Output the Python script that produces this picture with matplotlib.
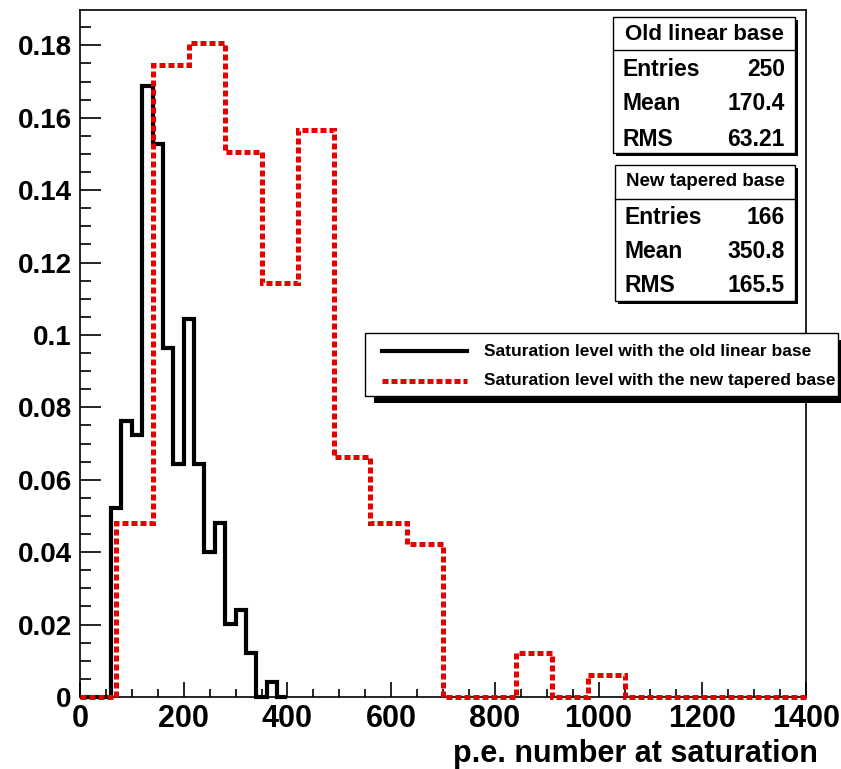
import matplotlib
matplotlib.use("Agg")
import matplotlib.pyplot as plt
from matplotlib.patches import Rectangle
from matplotlib.lines import Line2D
from matplotlib.ticker import MultipleLocator, FuncFormatter
import numpy as np

plt.rcParams['font.family'] = ['Liberation Sans', 'DejaVu Sans']
plt.rcParams['font.weight'] = 'bold'

# old linear base: 20 p.e. wide bins from 0 to 400
old_edges = np.arange(0, 401, 20)
old_counts = np.array([0, 0, 0, 13, 19, 18, 42, 38, 24, 16,
                       26, 16, 10, 12, 5, 6, 3, 0, 1, 0])
# new tapered base: 70 p.e. wide bins from 0 to 1400
new_edges = np.arange(0, 1401, 70)
new_counts = np.array([0, 8, 29, 30, 25, 19, 26, 11, 8, 7,
                       0, 0, 2, 0, 1, 0, 0, 0, 0, 0])

old_stats = [("Entries", "250"), ("Mean", "170.4"), ("RMS", "63.21")]
new_stats = [("Entries", "166"), ("Mean", "350.8"), ("RMS", "165.5")]

old_label = "Saturation level with the old linear base"
new_label = "Saturation level with the new tapered base"
xlabel = "p.e. number at saturation"

red = '#e60000'
red_ls = (0, (1.2, 0.6))

W, H = 841, 769
fig = plt.figure(figsize=(W / 100, H / 100), dpi=100)


def fx(x):
    return x / W


def fy(y):
    return 1 - y / H


ax = fig.add_axes([fx(80), fy(697), fx(806) - fx(80), fy(10) - fy(697)])

old_norm = old_counts / old_counts.sum()
new_norm = new_counts / new_counts.sum()
ax.stairs(old_norm, old_edges, color='black', lw=3, clip_on=False, zorder=3)
ax.stairs(new_norm, new_edges, color=red, lw=3.6, linestyle=red_ls,
          clip_on=False, zorder=4)

ax.set_xlim(0, 1400)
ax.set_ylim(0, 1.05 * new_norm.max())

ax.xaxis.set_major_locator(MultipleLocator(200))
ax.xaxis.set_minor_locator(MultipleLocator(50))
ax.yaxis.set_major_locator(MultipleLocator(0.02))
ax.yaxis.set_minor_locator(MultipleLocator(0.005))
ax.yaxis.set_major_formatter(FuncFormatter(lambda v, p: f"{v:g}"))

ax.tick_params(axis='y', which='major', direction='in', length=15, width=1.2,
               labelsize=20, pad=6)
ax.tick_params(axis='y', which='minor', direction='in', length=8, width=1.2)
ax.tick_params(axis='x', which='major', direction='in', length=11, width=1.2,
               labelsize=22, pad=5)
ax.tick_params(axis='x', which='minor', direction='in', length=5.5, width=1.2)
for s in ax.spines.values():
    s.set_linewidth(1.2)

fig.text(fx(818), fy(762), xlabel, fontsize=22, ha='right', va='baseline')


def stats_box(left, top, right, bottom, sep, title, tsize, title_y, rows, rows_y):
    fig.patches.append(Rectangle((fx(left + 3), fy(bottom + 3)), fx(right - left),
                                 fy(top) - fy(bottom), transform=fig.transFigure,
                                 facecolor='black', edgecolor='none', zorder=5))
    fig.patches.append(Rectangle((fx(left), fy(bottom)), fx(right - left),
                                 fy(top) - fy(bottom), transform=fig.transFigure,
                                 facecolor='white', edgecolor='black', lw=1,
                                 zorder=6))
    fig.lines.append(Line2D([fx(left), fx(right)], [fy(sep), fy(sep)],
                            transform=fig.transFigure, color='black', lw=1,
                            zorder=7))
    fig.text(fx((left + right) / 2), fy(title_y), title, fontsize=tsize,
             ha='center', va='center', zorder=8)
    for (name, val), y in zip(rows, rows_y):
        fig.text(fx(left + 9), fy(y), name, fontsize=16.5, ha='left',
                 va='center', zorder=8)
        fig.text(fx(right - 10), fy(y), val, fontsize=16.5, ha='right',
                 va='center', zorder=8)


stats_box(613, 17, 795, 153, 50, "Old linear base", 16, 34, old_stats,
          [69, 104, 139])
stats_box(615, 165, 795, 301, 199, "New tapered base", 13.5, 181, new_stats,
          [217, 251, 286])

# legend box with ROOT-like shadow
lx0, ly0, lx1, ly1 = 365, 333, 838, 396
fig.patches.append(Rectangle((fx(lx0 + 9), fy(ly1 + 7)), fx(lx1 - lx0),
                             fy(ly0) - fy(ly1), transform=fig.transFigure,
                             facecolor='black', edgecolor='none', zorder=5))
fig.patches.append(Rectangle((fx(lx0), fy(ly1)), fx(lx1 - lx0),
                             fy(ly0) - fy(ly1), transform=fig.transFigure,
                             facecolor='white', edgecolor='black', lw=1,
                             zorder=6))
fig.lines.append(Line2D([fx(382), fx(467)], [fy(351), fy(351)],
                        transform=fig.transFigure, color='black', lw=3,
                        zorder=7))
fig.lines.append(Line2D([fx(382), fx(467)], [fy(381), fy(381)],
                        transform=fig.transFigure, color=red, lw=3.6,
                        linestyle=red_ls, zorder=7))
fig.text(fx(484), fy(351), old_label, fontsize=12.5, ha='left', va='center',
         zorder=8)
fig.text(fx(484), fy(381), new_label, fontsize=12.5, ha='left', va='center',
         zorder=8)

fig.savefig("out.png", dpi=100)
